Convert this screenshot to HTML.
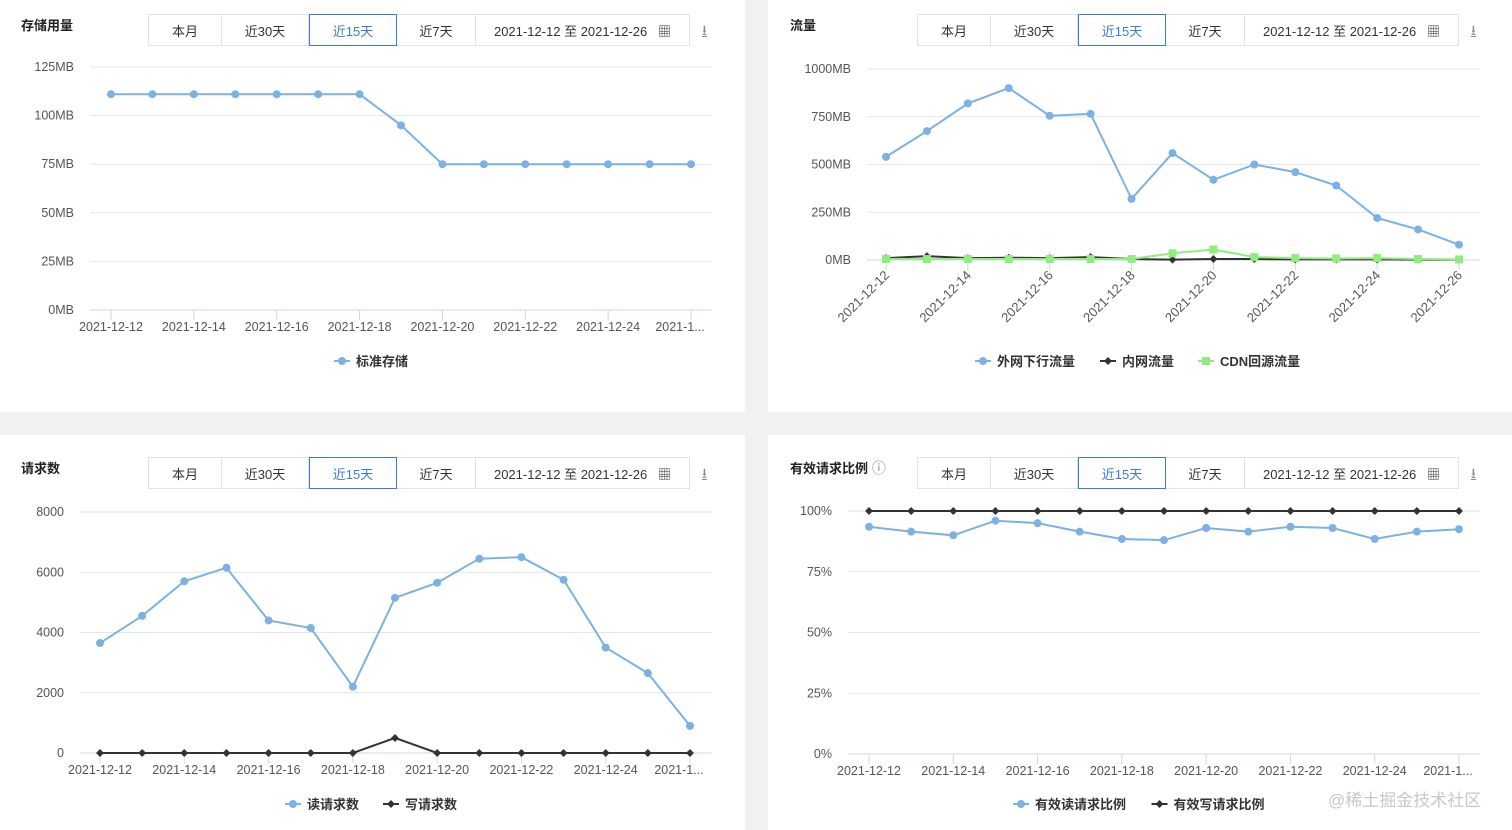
<!DOCTYPE html>
<html><head><meta charset="utf-8"><style>
body{margin:0;width:1512px;height:830px;background:#f0f1f3;font-family:"Liberation Sans","Noto Sans CJK SC",sans-serif;position:relative;overflow:hidden}
.panel{position:absolute;background:#fff}
.title{position:absolute;left:21px;top:15px;font-size:13px;font-weight:bold;color:#222}
.btns{position:absolute;left:148px;top:14px;height:32px;display:flex;border:1px solid #e3e3e3;box-sizing:border-box}
.btns div{font-size:13px;color:#333;display:flex;align-items:center;justify-content:center;border-right:1px solid #e3e3e3;box-sizing:border-box}
.btns div.sel{border:1px solid #3a7bd5;color:#3a7bd5;margin:-1px 0}
.dl{position:absolute;left:702px;top:20px;font-size:14px;color:#888}
svg{position:absolute;left:0;top:0}
</style></head><body>
<div class="panel" style="left:0;top:0;width:745px;height:412px"></div>
<div class="panel" style="left:768px;top:0;width:744px;height:412px"></div>
<div class="panel" style="left:0;top:435px;width:745px;height:395px"></div>
<div class="panel" style="left:768px;top:435px;width:744px;height:395px"></div>
<div id="hdrs"></div>
<svg id="s" width="1512" height="830" xmlns="http://www.w3.org/2000/svg" font-family="Liberation Sans, Noto Sans CJK SC, sans-serif"></svg>
<div style="position:absolute;left:1328px;top:786px;font-size:17px;color:#c8c8c8">@稀土掘金技术社区</div>
<script>
const dates=["2021-12-12","2021-12-13","2021-12-14","2021-12-15","2021-12-16","2021-12-17","2021-12-18","2021-12-19","2021-12-20","2021-12-21","2021-12-22","2021-12-23","2021-12-24","2021-12-25","2021-12-26"];
const storageStd=[111,111,111,111,111,111,111,95,75,75,75,75,75,75,75];
const storageTicks=["0MB","25MB","50MB","75MB","100MB","125MB"];
const trafficExt=[540,675,820,900,755,765,320,560,420,500,460,390,220,160,80];
const trafficInt=[10,20,10,12,10,15,5,2,5,5,3,3,3,2,2];
const trafficCdn=[5,5,5,5,5,5,5,35,55,15,10,8,10,5,3];
const trafficTicks=["0MB","250MB","500MB","750MB","1000MB"];
const reqRead=[3650,4550,5700,6150,4400,4150,2200,5150,5650,6450,6500,5750,3500,2650,900];
const reqWrite=[0,0,0,0,0,0,0,500,0,0,0,0,0,0,0];
const reqTicks=["0","2000","4000","6000","8000"];
const ratioRead=[93.5,91.5,90,96,95,91.5,88.5,88,93,91.5,93.5,93,88.5,91.5,92.5];
const ratioWrite=[100,100,100,100,100,100,100,100,100,100,100,100,100,100,100];
const ratioTicks=["0%","25%","50%","75%","100%"];

const svg=document.getElementById('s');const NS="http://www.w3.org/2000/svg";
function mk(tag,attrs,parent){const e=document.createElementNS(NS,tag);for(const k in attrs)e.setAttribute(k,attrs[k]);(parent||svg).appendChild(e);return e;}
const BLUE="#7cb1e4",DARK="#333",GREEN="#90ed7d";
function header(ox,oy,title,name,info){
  const h=document.getElementById('hdrs');
  const t=document.createElement('div');t.className='title';t.style.left=(ox+21)+'px';t.style.top=(oy+15)+'px';t.textContent=title;
  
  
  if(info){const i=document.createElement('span');i.textContent=' ⓘ';i.style.cssText='font-weight:normal;color:#888;font-size:14px';t.appendChild(i);}
  h.appendChild(t);
  const b=document.createElement('div');b.className='btns';b.style.left=(ox+148)+'px';b.style.top=(oy+14)+'px';
  
  
  const items=[["本月",73,"month-button"],["近30天",87,"last-30-days-button"],["近15天",88,"last-15-days-button"],["近7天",79,"last-7-days-button"],["2021-12-12 至 2021-12-26 &nbsp;&nbsp;▦",213,"date-range-picker"]];
  items.forEach((it,i)=>{const d=document.createElement('div');d.innerHTML=it[0];d.style.width=it[1]+'px';if(i==2)d.className='sel';if(i==4)d.style.borderRight='none';
    
    
    b.appendChild(d);});
  h.appendChild(b);
  const dl=document.createElement('div');dl.className='dl';dl.style.left=(ox+702)+'px';dl.style.top=(oy+20)+'px';dl.innerHTML='<span style="text-decoration:underline">⭳</span>';
  
  
  h.appendChild(dl);
}
function chart(c){
  const g=mk('g',{});
  
  
  const ys=v=>c.y0-(v/c.max)*(c.y0-c.y1);
  const xs=i=>c.xa+i*(c.xb-c.xa)/(dates.length-1);
  c.ticks.forEach((t,i)=>{const v=i*c.max/(c.ticks.length-1);const y=ys(v);
    const l=mk('line',{x1:c.gx0,x2:c.gx1,y1:y,y2:y,stroke:i==0?'#ccd6eb':'#e6e6e6','stroke-width':1},g);
    
    
    const tx=mk('text',{x:c.gx0-16,y:y+4,'text-anchor':'end','font-size':12.5,fill:'#555'},g);tx.textContent=t;
    
    
  });
  dates.forEach((d,i)=>{if(i%2)return;const x=xs(i);
    mk('line',{x1:x,x2:x,y1:c.y0,y2:c.y0+10,stroke:'#ccd6eb'},g);
    const lab=(i==14&&!c.rot)?"2021-1...":d;
    let tx;
    if(c.rot){tx=mk('text',{x:x+4,y:c.y0+16,'text-anchor':'end','font-size':13,fill:'#555',transform:`rotate(-45 ${x+4} ${c.y0+16})`},g);}
    else tx=mk('text',{x:i==14?x-11:x,y:c.y0+21,'text-anchor':'middle','font-size':12.5,fill:'#555'},g);
    tx.textContent=lab;
    
    
  });
  c.series.forEach(s=>{
    const pts=s.data.map((v,i)=>xs(i)+','+ys(v)).join(' ');
    const pl=mk('polyline',{points:pts,fill:'none',stroke:s.color,'stroke-width':2},g);
    
    
    s.data.forEach((v,i)=>{const x=xs(i),y=ys(v);let m;
      if(s.marker=='circle')m=mk('circle',{cx:x,cy:y,r:4,fill:s.color},g);
      else if(s.marker=='diamond')m=mk('path',{d:`M${x} ${y-4}L${x+4} ${y}L${x} ${y+4}L${x-4} ${y}Z`,fill:s.color},g);
      else m=mk('rect',{x:x-4,y:y-4,width:8,height:8,fill:s.color},g);
      
      
    });
  });
  let lx=c.legX;
  c.series.forEach(s=>{
    const lg=mk('g',{},g);
    
    
    mk('line',{x1:lx,x2:lx+16,y1:c.legY,y2:c.legY,stroke:s.color,'stroke-width':2},lg);
    if(s.marker=='circle')mk('circle',{cx:lx+8,cy:c.legY,r:4,fill:s.color},lg);
    else if(s.marker=='diamond')mk('path',{d:`M${lx+8} ${c.legY-4}l4 4l-4 4l-4 -4Z`,fill:s.color},lg);
    else mk('rect',{x:lx+4,y:c.legY-4,width:8,height:8,fill:s.color},lg);
    const t=mk('text',{x:lx+22,y:c.legY+5,'font-size':13,'font-weight':'bold',fill:'#333'},lg);t.textContent=s.label;
    lx+=22+s.label.length*13.5+(s.label.match(/[A-Z]/g)||[]).length*-4+22;
  });
}
header(0,0,"存储用量","storage");
header(769,0,"流量","traffic");
header(0,443,"请求数","requests");
header(769,443,"有效请求比例","valid-ratio",true);
chart({name:'storage',y0:310,y1:67,max:125,gx0:90,gx1:712,xa:111,xb:691,ticks:storageTicks,legX:334,legY:361,
  series:[{name:'standard-storage',label:'标准存储',data:storageStd,color:BLUE,marker:'circle'}]});
chart({name:'traffic',y0:260,y1:69,max:1000,gx0:867,gx1:1480,xa:886,xb:1459,ticks:trafficTicks,rot:true,legX:975,legY:361,
  series:[{name:'external-traffic',label:'外网下行流量',data:trafficExt,color:BLUE,marker:'circle'},
          {name:'internal-traffic',label:'内网流量',data:trafficInt,color:DARK,marker:'diamond'},
          {name:'cdn-traffic',label:'CDN回源流量',data:trafficCdn,color:GREEN,marker:'square'}]});
chart({name:'requests',y0:753,y1:512,max:8000,gx0:80,gx1:712,xa:100,xb:690,ticks:reqTicks,legX:285,legY:804,
  series:[{name:'read-requests',label:'读请求数',data:reqRead,color:BLUE,marker:'circle'},
          {name:'write-requests',label:'写请求数',data:reqWrite,color:DARK,marker:'diamond'}]});
chart({name:'valid-ratio',y0:754,y1:511,max:100,gx0:848,gx1:1480,xa:869,xb:1459,ticks:ratioTicks,legX:1013,legY:804,
  series:[{name:'valid-read-ratio',label:'有效读请求比例',data:ratioRead,color:BLUE,marker:'circle'},
          {name:'valid-write-ratio',label:'有效写请求比例',data:ratioWrite,color:DARK,marker:'diamond'}]});
</script>
</body></html>
